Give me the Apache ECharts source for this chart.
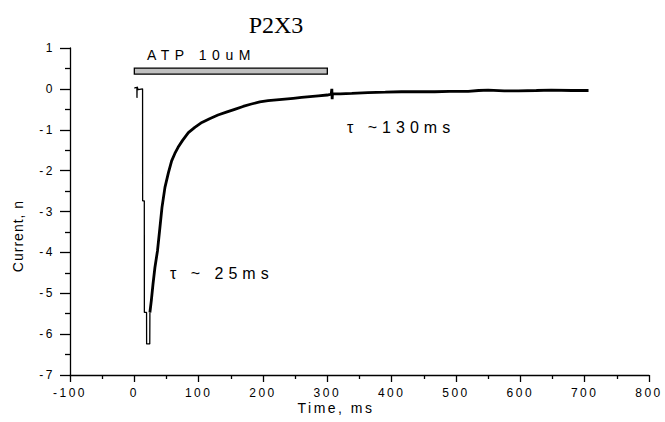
<!DOCTYPE html>
<html>
<head>
<meta charset="utf-8">
<script src="https://cdn.jsdelivr.net/npm/echarts@6/dist/echarts.min.js"></script>
<style>
html,body{margin:0;padding:0;background:#fff;}
#chart{width:665px;height:422px;}
#chart text{letter-spacing:2.5px;}
</style>
</head>
<body>
<div id="chart"></div>
<script>
// ---- data ----
const titleText = 'P2X3';
const xAxisName = 'Time, ms';
const yAxisName = 'Current, n';
const xTicks = { min: -100, max: 800, interval: 100 };
const yTicks = { min: -7, max: 1, interval: 1 };

// onset / peak part of the trace (ms, current)
const onsetTime    = [0, 2, 4, 4.1, 4.3, 6, 12.8, 12.9, 15.5, 15.6, 19, 19.1, 24, 24.2];
const onsetCurrent = [0.02, 0.03, 0.03, -0.22, 0.05, -0.02, 0.0, -2.74, -2.74, -5.47, -5.47, -6.24, -6.24, -5.47];

// decay part of the trace (ms, current)
const decayTime = [24.2, 26.4, 29, 32, 36, 39.8, 43, 47.6, 53, 58, 63, 68, 75, 84, 94, 105, 117, 130, 143, 156,
  169, 182, 195, 208, 221, 234, 247, 260, 273, 286, 300, 306, 307, 307.5, 308, 320, 338, 363, 390, 415,
  440, 467, 490, 519, 535, 550, 575, 597, 625, 648, 680, 706];
const decayCurrent = [-5.47, -5.18, -4.78, -4.37, -3.96, -3.39, -2.9, -2.41, -2.05, -1.76, -1.58, -1.43, -1.26, -1.07, -0.94, -0.82, -0.73, -0.64, -0.57, -0.50,
  -0.43, -0.37, -0.32, -0.29, -0.27, -0.25, -0.23, -0.21, -0.19, -0.17, -0.15, -0.13, 0.0, -0.25, -0.12, -0.12, -0.11, -0.09, -0.08, -0.07,
  -0.07, -0.07, -0.06, -0.06, -0.04, -0.03, -0.05, -0.05, -0.04, -0.03, -0.04, -0.04];

// ATP application bar (ms range, current range)
const atpLabel = 'ATP 10uM';
const atpTime = [0, 300];
const atpLevel = [0.36, 0.51];

const tauFast = 'τ ~ 25ms';
const tauSlow = 'τ ~130ms';

// ---- chart ----
const zip = (a, b) => a.map((v, i) => [v, b[i]]);
const chart = echarts.init(document.getElementById('chart'), null, { renderer: 'svg' });
const labelFont = { fontFamily: '"Liberation Sans", Arial, sans-serif', fontSize: 12, color: '#000' };

chart.setOption({
  animation: false,
  backgroundColor: '#fff',
  grid: { left: 70, right: 16, top: 48, bottom: 47, containLabel: false, outerBoundsMode: 'none' },
  xAxis: {
    type: 'value', min: xTicks.min, max: xTicks.max, interval: xTicks.interval,
    axisLine: { show: true, onZero: false, lineStyle: { color: '#000', width: 1.3 } },
    axisTick: { show: true, inside: false, length: 7, lineStyle: { color: '#000', width: 1.3 } },
    minorTick: { show: true, splitNumber: 2, length: 4, lineStyle: { color: '#000', width: 1.3 } },
    splitLine: { show: false },
    axisLabel: Object.assign({ margin: 12 }, labelFont)
  },
  yAxis: {
    type: 'value', min: yTicks.min, max: yTicks.max, interval: yTicks.interval,
    axisLine: { show: true, onZero: false, lineStyle: { color: '#000', width: 1.3 } },
    axisTick: { show: true, inside: false, length: 10, lineStyle: { color: '#000', width: 1.3 } },
    minorTick: { show: true, splitNumber: 2, length: 5, lineStyle: { color: '#000', width: 1.3 } },
    splitLine: { show: false },
    axisLabel: Object.assign({ margin: 15 }, labelFont)
  },
  series: [
    {
      type: 'line', data: zip(onsetTime, onsetCurrent), showSymbol: false, symbol: 'none',
      lineStyle: { color: '#000', width: 1.3 }, silent: true,
      markArea: {
        silent: true,
        itemStyle: { color: '#c0c0c0', borderColor: '#000', borderWidth: 1.3 },
        data: [[{ xAxis: atpTime[0], yAxis: atpLevel[0] }, { xAxis: atpTime[1], yAxis: atpLevel[1] }]]
      }
    },
    {
      type: 'line', data: zip(decayTime, decayCurrent), showSymbol: false, symbol: 'none',
      lineStyle: { color: '#000', width: 2.8 }, silent: true
    }
  ],
  graphic: [
    { type: 'text', x: 276, y: 25, style: { text: titleText, font: '24px "Liberation Serif", "Times New Roman", serif', fill: '#000', textAlign: 'center', textVerticalAlign: 'middle' } },
    { type: 'text', x: 336, y: 408, style: { text: xAxisName, font: '14px "Liberation Sans", Arial, sans-serif', fill: '#000', textAlign: 'center', textVerticalAlign: 'middle' } },
    { type: 'text', x: 18, y: 236, rotation: Math.PI / 2, style: { text: yAxisName, font: '14px "Liberation Sans", Arial, sans-serif', fill: '#000', textAlign: 'center', textVerticalAlign: 'middle' } },
    { type: 'text', x: 147, y: 55, style: { text: atpLabel, font: '14px "Liberation Sans", Arial, sans-serif', fill: '#000', textAlign: 'left', textVerticalAlign: 'middle' } },
    { type: 'text', x: 347, y: 127, style: { text: tauSlow, font: '16px "Liberation Sans", Arial, sans-serif', fill: '#000', textAlign: 'left', textVerticalAlign: 'middle' } },
    { type: 'text', x: 170, y: 273, style: { text: tauFast, font: '16px "Liberation Sans", Arial, sans-serif', fill: '#000', textAlign: 'left', textVerticalAlign: 'middle' } }
  ]
});

const spacing = {};
spacing[titleText] = '0px';
spacing[yAxisName] = '1px';
spacing[xAxisName] = '2.5px';
spacing[atpLabel] = '5.5px';
spacing[tauSlow] = '5px';
spacing[tauFast] = '5px';
function applySpacing() {
  document.querySelectorAll('#chart text').forEach(t => {
    const s = spacing[t.textContent];
    if (s !== undefined) t.style.letterSpacing = s;
  });
}
chart.on('finished', applySpacing);
applySpacing();
setTimeout(applySpacing, 50);
</script>
</body>
</html>
